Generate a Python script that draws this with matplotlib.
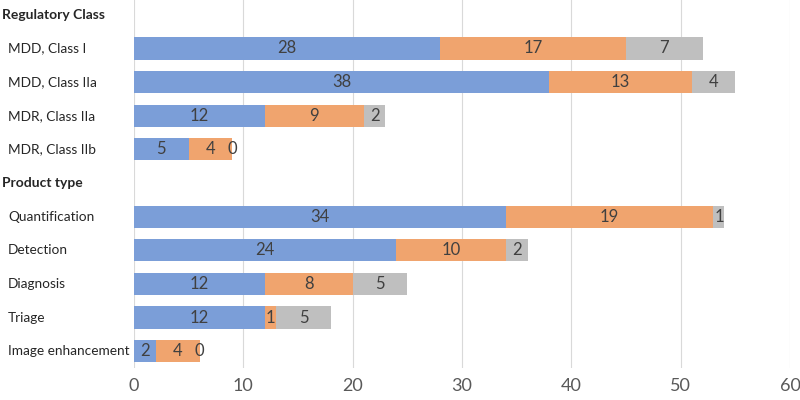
import numpy as np
import matplotlib.pyplot as plt
import matplotlib.transforms as mtransforms

plt.rcParams['font.family'] = ['Lato', 'DejaVu Sans']

# --- Data ---
rows = ["Regulatory Class", "MDD, Class I", "MDD, Class IIa", "MDR, Class IIa", "MDR, Class IIb",
        "Product type", "Quantification", "Detection", "Diagnosis", "Triage", "Image enhancement"]
headers = ["Regulatory Class", "Product type"]
blue = [None, 28, 38, 12, 5, None, 34, 24, 12, 12, 2]
orange = [None, 17, 13, 9, 4, None, 19, 10, 8, 1, 4]
grey = [None, 7, 4, 2, 0, None, 1, 2, 5, 5, 0]

colors = ["#7B9ED8", "#F0A46E", "#BFBFBF"]

fig = plt.figure(figsize=(8, 4), dpi=100)
ax = fig.add_axes([0.1675, 0.08, 0.82, 0.925])

y = np.arange(len(rows))
bar_rows = [i for i, r in enumerate(rows) if r not in headers]
yb = y[bar_rows]
b = np.array([blue[i] for i in bar_rows])
o = np.array([orange[i] for i in bar_rows])
g = np.array([grey[i] for i in bar_rows])

left = np.zeros(len(bar_rows))
for vals, c in zip([b, o, g], colors):
    bars = ax.barh(yb, vals, left=left, height=0.66, color=c, edgecolor="none", zorder=2)
    ax.bar_label(bars, labels=[str(v) for v in vals], label_type="center",
                 color="#404040", fontsize=12)
    left = left + vals

ax.set_ylim(len(rows) - 0.5, -0.5)
ax.set_xlim(0, 60)
ax.set_xticks(range(0, 61, 10))
ax.tick_params(axis="x", length=0, labelsize=13, labelcolor="#595959", pad=7)
ax.set_yticks([])
ax.grid(axis="x", color="#D9D9D9", linewidth=0.8, zorder=0)
for s in ax.spines.values():
    s.set_visible(False)

# row labels: headers bold and flush left, items indented
trans = mtransforms.blended_transform_factory(fig.transFigure, ax.transData)
for i, r in enumerate(rows):
    if r in headers:
        ax.text(0.003, i, r, transform=trans, fontweight="bold", fontsize=10,
                color="#262626", va="center", ha="left", clip_on=False)
    else:
        ax.text(0.01, i, r, transform=trans, fontsize=9.8,
                color="#262626", va="center", ha="left", clip_on=False)

fig.savefig("out.png", dpi=100)
